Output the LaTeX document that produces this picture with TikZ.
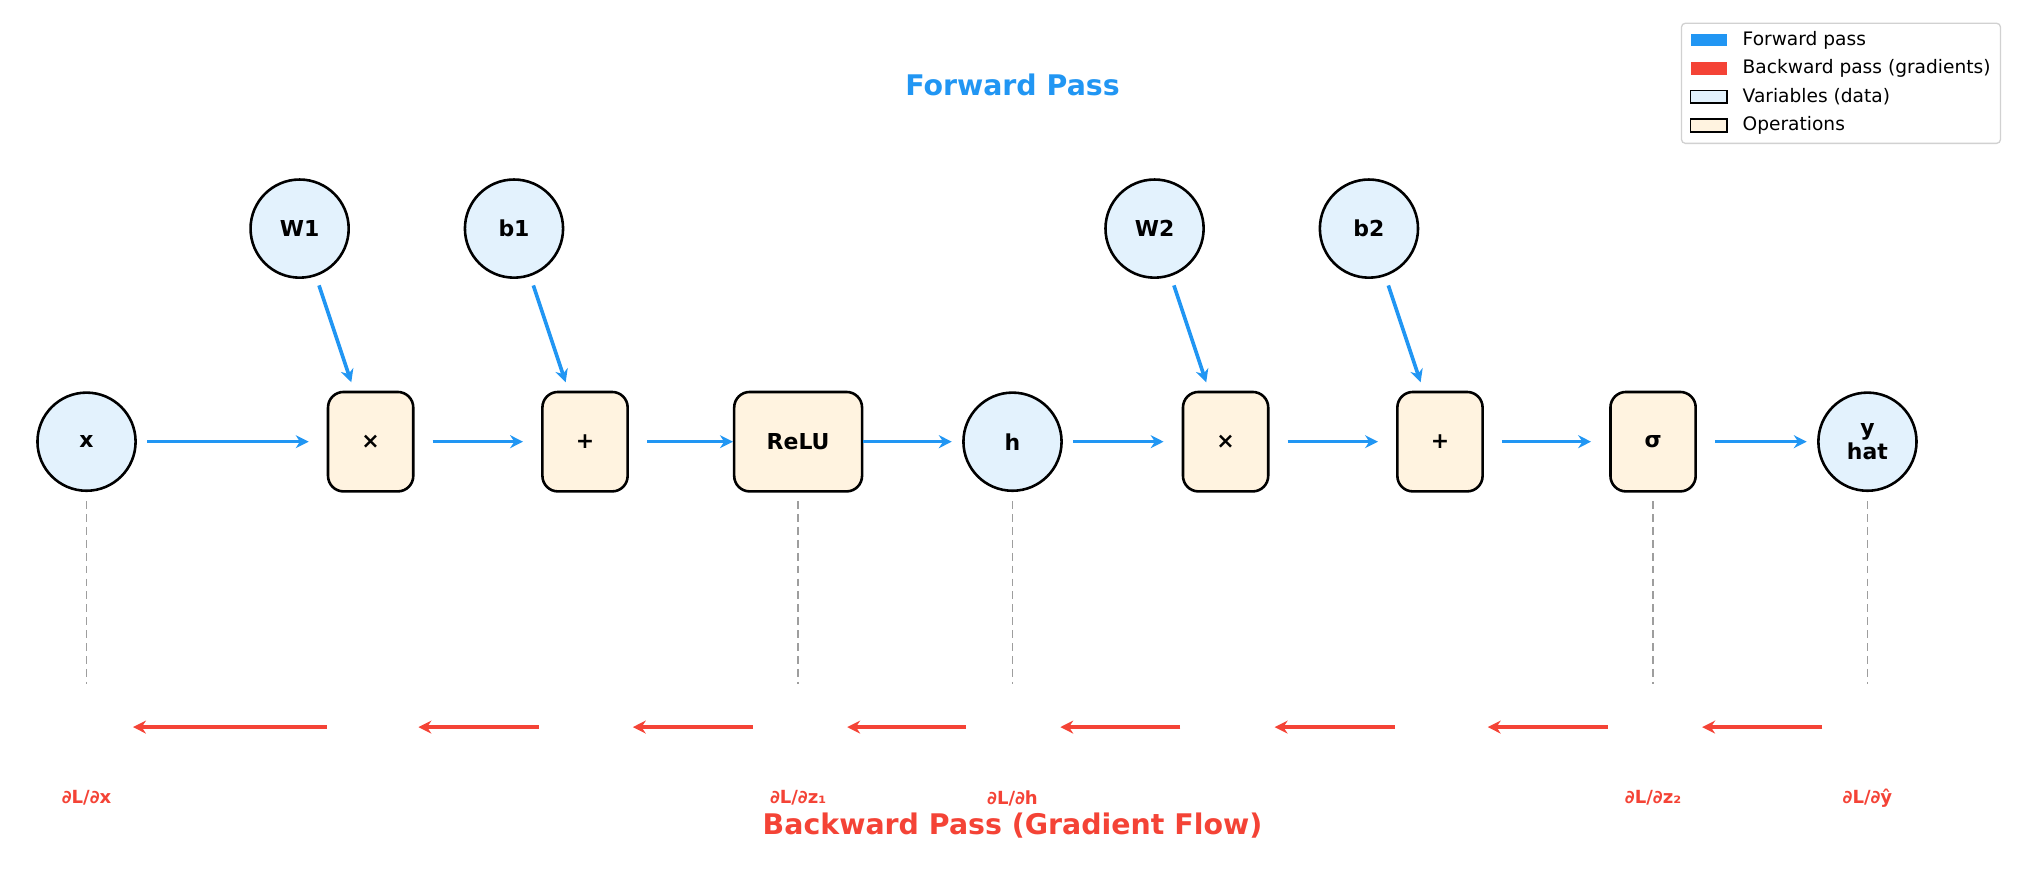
\documentclass[tikz,border=0pt]{standalone}
\usepackage{fontspec}
\setmainfont{DejaVu Sans}
\usetikzlibrary{arrows.meta}
\definecolor{fwd}{HTML}{2196F3}
\definecolor{bwd}{HTML}{F44336}
\definecolor{varf}{HTML}{E3F2FD}
\definecolor{opf}{HTML}{FFF3E0}
\begin{document}
\begin{tikzpicture}[x=0.5pt,y=-0.5pt,
 var/.style={circle,draw=black,line width=1pt,fill=varf,minimum size=38pt,inner sep=0pt,font=\fontsize{8.5}{9.5}\selectfont\bfseries,align=center},
 op/.style={rectangle,rounded corners=6pt,draw=black,line width=1pt,fill=opf,minimum width=33pt,minimum height=38.5pt,inner sep=0pt,font=\fontsize{8.5}{9.5}\selectfont\bfseries},
 farr/.style={draw=fwd,line width=1.4pt,-{Stealth[length=5pt,width=5pt]}},
 barr/.style={draw=bwd,line width=1.4pt,-{Stealth[length=5pt,width=5pt]}},
 dsh/.style={draw=black!38,line width=0.6pt,dash pattern=on 3pt off 2pt},
 glab/.style={text=bwd,font=\fontsize{7}{8}\selectfont\bfseries},
 leg/.style={font=\fontsize{7.2}{8}\selectfont,anchor=west,inner sep=0pt}]
\useasboundingbox (0,0) rectangle (1568,686);
% main row
\node[var] (x) at (67,342) {x};
\node[op] (m1) at (287,342) {×};
\node[op] (a1) at (453,342) {+};
\node[op,minimum width=49.5pt] (relu) at (618,342) {ReLU};
\node[var] (h) at (784,342) {h};
\node[op] (m2) at (949,342) {×};
\node[op] (a2) at (1115,342) {+};
\node[op] (sg) at (1280,342) {σ};
\node[var] (yh) at (1446,342) {y\\hat};
\node[var] (W1) at (232,177) {W1};
\node[var] (b1) at (398,177) {b1};
\node[var] (W2) at (894,177) {W2};
\node[var] (b2) at (1060,177) {b2};
% forward arrows
\draw[farr] ([xshift=4pt]x.east) -- ([xshift=-7pt]m1.west);
\draw[farr] ([xshift=7pt]m1.east) -- ([xshift=-7pt]a1.west);
\draw[farr] ([xshift=7pt]a1.east) -- (relu.west);
\draw[farr] (relu.east) -- ([xshift=-4pt]h.west);
\draw[farr] ([xshift=4pt]h.east) -- ([xshift=-7pt]m2.west);
\draw[farr] ([xshift=7pt]m2.east) -- ([xshift=-7pt]a2.west);
\draw[farr] ([xshift=7pt]a2.east) -- ([xshift=-7pt]sg.west);
\draw[farr] ([xshift=7pt]sg.east) -- ([xshift=-4pt]yh.west);
% parameter arrows
\foreach \p/\o in {W1/m1,b1/a1,W2/m2,b2/a2}{
  \coordinate (\p s) at ([shift={(15,44)}]\p.center);
  \coordinate (\p e) at ([shift={(-15,-46)}]\o.center);
  \draw[farr] (\p s) -- (\p e);
}
% dashed lines
\foreach \n in {x,relu,h,sg,yh}{
  \coordinate (\n d) at (\n.center |- 0,530);
  \draw[dsh] ([yshift=-23pt]\n.center) -- (\n d);
}
% backward arrows
\foreach \a/\b [count=\i] in {253/103,417/324,583/490,748/656,914/821,1080/987,1245/1152,1411/1318}{
  \coordinate (bs\i) at (\a,563);
  \coordinate (be\i) at (\b,563);
  \draw[barr] (bs\i) -- (be\i);
}
% gradient labels
\node[glab] (gx) at (67,618) {∂L/∂x};
\node[glab] (gz1) at (618,618) {∂L/∂z₁};
\node[glab] (gh) at (784,618) {∂L/∂h};
\node[glab] (gz2) at (1280,618) {∂L/∂z₂};
\node[glab] (gy) at (1446,618) {∂L/∂ŷ};
% titles
\node[text=fwd,font=\fontsize{11}{13}\selectfont\bfseries] (ft) at (784,66) {Forward Pass};
\node[text=bwd,font=\fontsize{11}{13}\selectfont\bfseries] (bt) at (784,639) {Backward Pass (Gradient Flow)};
% legend
\draw[draw=black!18,fill=white,line width=0.5pt,rounded corners=1.5pt] (1302,18) rectangle (1549,111);
\fill[fwd] (1309,26) rectangle (1337,36);
\fill[bwd] (1309,48) rectangle (1337,58);
\draw[fill=varf,line width=0.7pt] (1309,70) rectangle (1337,80);
\draw[fill=opf,line width=0.7pt] (1309,92) rectangle (1337,102);
\node[leg] (l1) at (1349,31) {Forward pass};
\node[leg] (l2) at (1349,53) {Backward pass (gradients)};
\node[leg] (l3) at (1349,75) {Variables (data)};
\node[leg] (l4) at (1349,97) {Operations};
\end{tikzpicture}
\end{document}
